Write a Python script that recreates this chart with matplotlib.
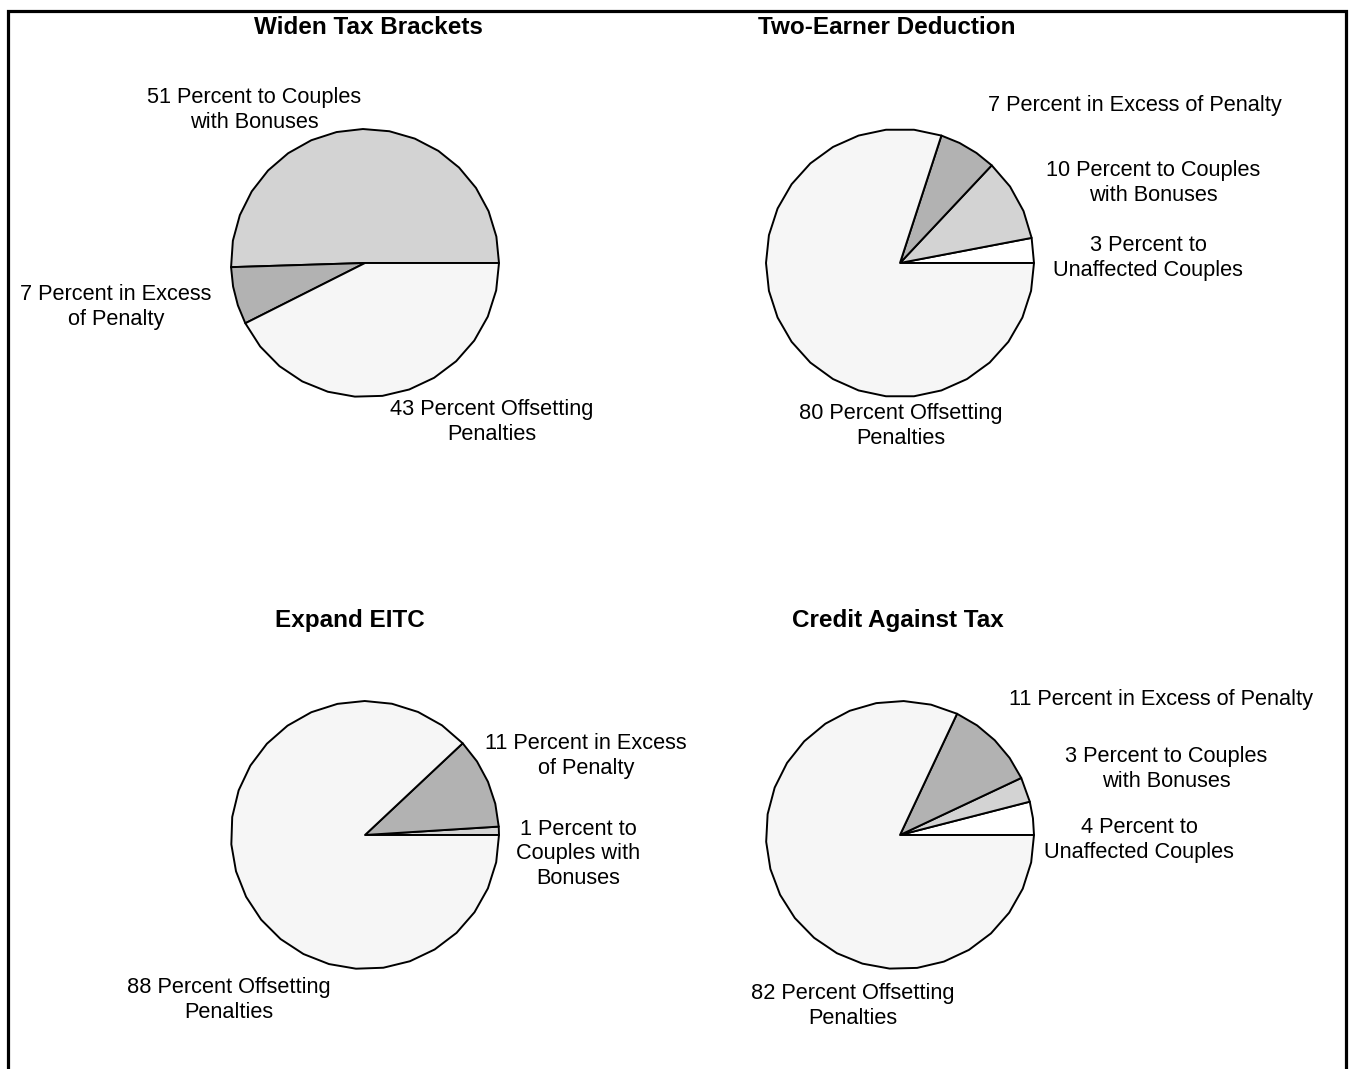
import numpy as np
import matplotlib
matplotlib.use("Agg")
import matplotlib.pyplot as plt
from matplotlib.patches import Polygon, Rectangle

plt.rcParams['font.family'] = ['Liberation Sans', 'DejaVu Sans']

# Shares of each marriage-penalty relief option (percent)
titles = ["Widen Tax Brackets", "Two-Earner Deduction", "Expand EITC", "Credit Against Tax"]

widen_cats = ["Bonuses", "Excess", "Offsetting"]
widen_vals = [51, 7, 43]

two_earner_cats = ["Unaffected", "Bonuses", "Excess", "Offsetting"]
two_earner_vals = [3, 10, 7, 80]

eitc_cats = ["Bonuses", "Excess", "Offsetting"]
eitc_vals = [1, 11, 88]

credit_cats = ["Unaffected", "Bonuses", "Excess", "Offsetting"]
credit_vals = [4, 3, 11, 82]

labels = {
    "Widen Tax Brackets": {
        "Bonuses": "51 Percent to Couples\nwith Bonuses",
        "Excess": "7 Percent in Excess\nof Penalty",
        "Offsetting": "43 Percent Offsetting\nPenalties",
    },
    "Two-Earner Deduction": {
        "Unaffected": "3 Percent to\nUnaffected Couples",
        "Bonuses": "10 Percent to Couples\nwith Bonuses",
        "Excess": "7 Percent in Excess of Penalty",
        "Offsetting": "80 Percent Offsetting\nPenalties",
    },
    "Expand EITC": {
        "Bonuses": "1 Percent to\nCouples with\nBonuses",
        "Excess": "11 Percent in Excess\nof Penalty",
        "Offsetting": "88 Percent Offsetting\nPenalties",
    },
    "Credit Against Tax": {
        "Unaffected": "4 Percent to\nUnaffected Couples",
        "Bonuses": "3 Percent to Couples\nwith Bonuses",
        "Excess": "11 Percent in Excess of Penalty",
        "Offsetting": "82 Percent Offsetting\nPenalties",
    },
}

colors = {
    "Unaffected": "#ffffff",
    "Bonuses": "#d3d3d3",
    "Excess": "#b2b2b2",
    "Offsetting": "#f6f6f6",
}

W, H = 1349, 1069

# layout in pixel space (y measured from the top)
centers = [(365, 263), (900, 263), (365, 835), (900, 835)]
radius = 134
title_pos = [(368, 27), (887, 27), (350, 620), (898, 620)]
label_pos = {
    "Widen Tax Brackets": {"Bonuses": (254, 110), "Excess": (116, 307), "Offsetting": (492, 422)},
    "Two-Earner Deduction": {"Excess": (1135, 105), "Bonuses": (1153, 183),
                             "Unaffected": (1148, 258), "Offsetting": (901, 426)},
    "Expand EITC": {"Excess": (586, 756), "Bonuses": (578, 854), "Offsetting": (229, 1000)},
    "Credit Against Tax": {"Excess": (1161, 699), "Bonuses": (1166, 769),
                           "Unaffected": (1139, 840), "Offsetting": (853, 1006)},
}

datasets = [
    (widen_cats, widen_vals),
    (two_earner_cats, two_earner_vals),
    (eitc_cats, eitc_vals),
    (credit_cats, credit_vals),
]

fig = plt.figure(figsize=(W / 100, H / 100), dpi=100)
ax = fig.add_axes([0, 0, 1, 1])


def faceted(wedge, step=12.0):
    """Replace a smooth pie wedge by a straight-edged polygon."""
    t1, t2 = wedge.theta1, wedge.theta2
    n = max(1, int(np.ceil((t2 - t1) / step)))
    th = np.radians(np.linspace(t1, t2, n + 1))
    cx, cy = wedge.center
    r = wedge.r
    pts = [(cx, cy)] + [(cx + r * np.cos(t), cy + r * np.sin(t)) for t in th]
    return Polygon(pts, closed=True, facecolor=wedge.get_facecolor(),
                   edgecolor="black", linewidth=1.4, joinstyle="round")


for title, (cats, vals), (cx, cy), (tx, ty) in zip(titles, datasets, centers, title_pos):
    wedges, _ = ax.pie(vals, colors=[colors[c] for c in cats], startangle=0,
                       counterclock=True, center=(cx, H - cy), radius=radius,
                       frame=True)
    for w in wedges:
        poly = faceted(w)
        w.remove()
        ax.add_patch(poly)
    ax.text(tx, H - ty, title, ha="center", va="center", fontsize=17.5,
            fontweight="bold")
    for c in cats:
        lx, ly = label_pos[title][c]
        ax.text(lx, H - ly, labels[title][c], ha="center", va="center",
                fontsize=15.7, linespacing=1.2)

ax.set_xlim(0, W)
ax.set_ylim(0, H)
ax.set_aspect("equal")
ax.axis("off")

# outer frame (open at the bottom edge)
fig.add_artist(Rectangle((7.5 / W, -0.05), (1345.5 - 7.5) / W, (H - 10.5) / H + 0.05,
                         transform=fig.transFigure, fill=False, edgecolor="black",
                         linewidth=2.3))

fig.savefig("out.png", dpi=100)
